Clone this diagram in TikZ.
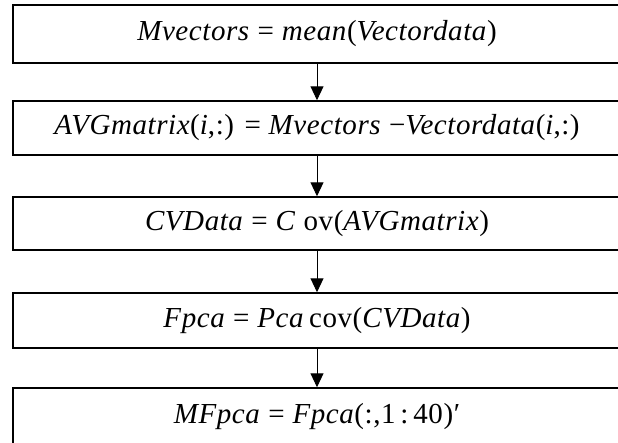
\documentclass[tikz,border=0pt]{standalone}
\usepackage{fontspec}
\setmainfont[LetterSpace=2]{Liberation Serif}
\usetikzlibrary{arrows.meta}
\newcommand\vi[1]{\textit{#1}}
\begin{document}
\begin{tikzpicture}[x=1pt,y=-1pt,
  flowbox/.style={draw=black,line width=1.5pt,rectangle,minimum width=608pt,inner sep=0pt,font=\fontsize{29}{32}\selectfont},
  flowarrow/.style={line width=1pt,-{Triangle[length=14pt,width=13pt]}}]
\useasboundingbox (0,0) rectangle (618,442);
\clip (0,0) rectangle (618,442);
\node[flowbox,minimum height=58pt] (b1) at (317,34) {\vi{Mvectors} = \vi{mean}(\vi{Vectordata})};
\node[flowbox,minimum height=54pt] (b2) at (317,128) {\vi{AVGmatrix}(\vi{i},:) = \vi{Mvectors} −\vi{Vectordata}(\vi{i},:)};
\node[flowbox,minimum height=53pt] (b3) at (317,223.5) {\vi{CVData} = \vi{C} ov(\vi{AVGmatrix})};
\node[flowbox,minimum height=55pt] (b4) at (317,320.5) {\vi{Fpca} = \vi{Pca}\,cov(\vi{CVData})};
\node[flowbox,minimum height=58pt] (b5) at (317,417) {\vi{MFpca} = \vi{Fpca}(:,1\,:\,40)′};
\draw[flowarrow] (b1.south) -- (b2.north);
\draw[flowarrow] (b2.south) -- (b3.north);
\draw[flowarrow] (b3.south) -- (b4.north);
\draw[flowarrow] (b4.south) -- (b5.north);
\end{tikzpicture}
\end{document}
